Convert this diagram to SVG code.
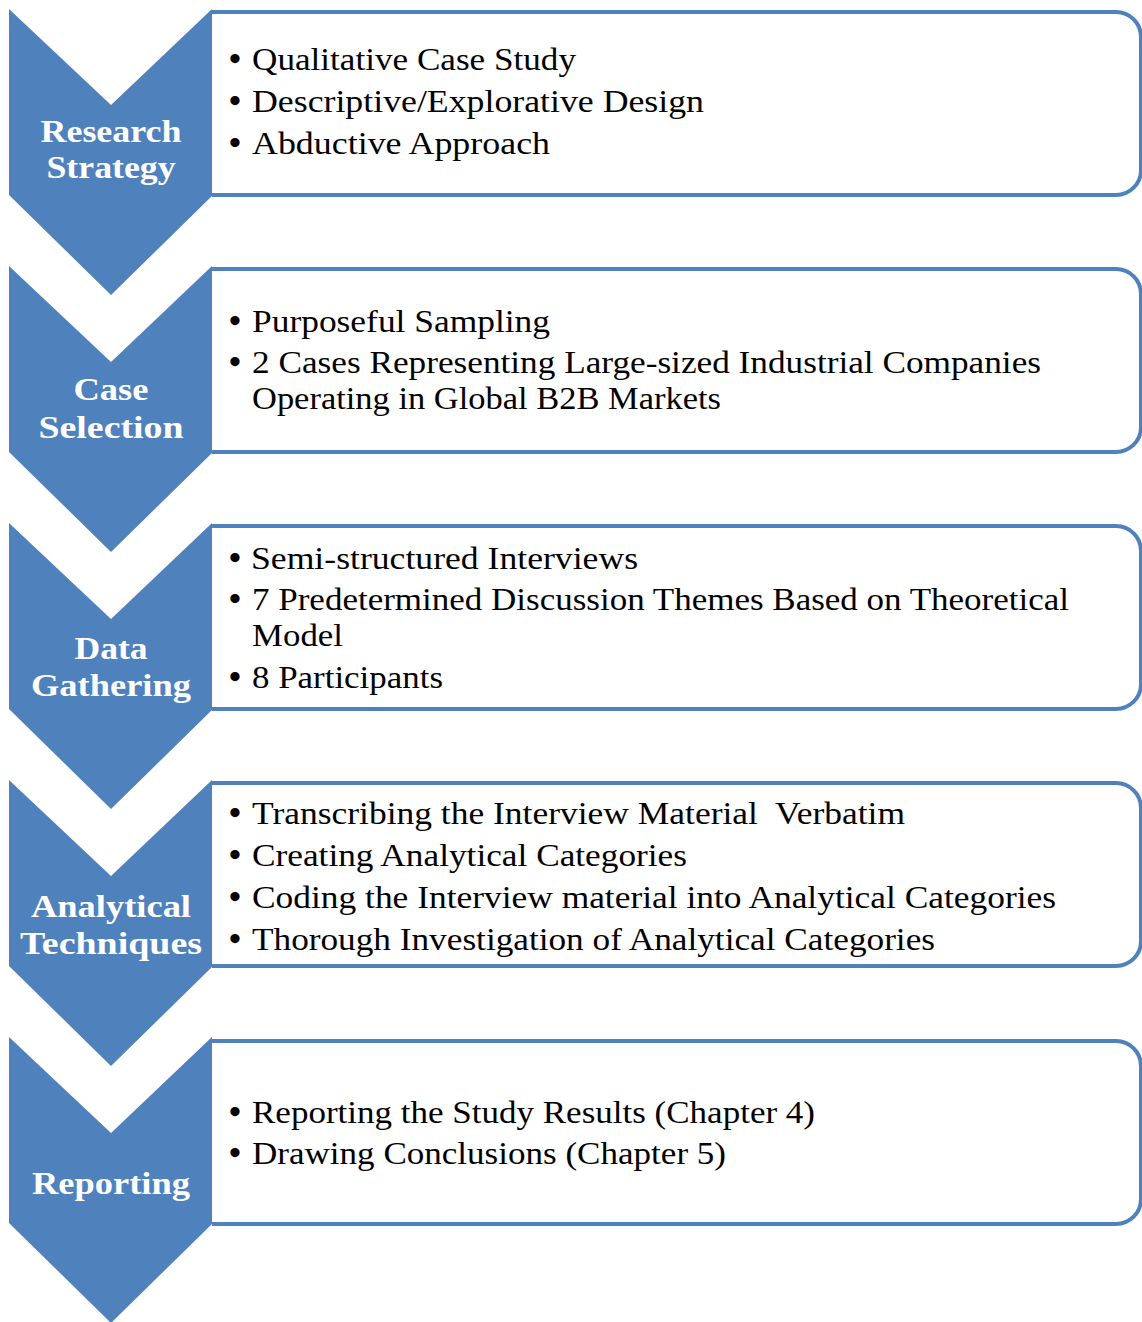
<svg xmlns="http://www.w3.org/2000/svg" width="1142" height="1322" viewBox="0 0 1142 1322">
<style>
.box{fill:#fff;stroke:#4F81BD;stroke-width:4}
.chev{fill:#4F81BD}
.lbl{font-family:"Liberation Serif","DejaVu Serif",serif;font-size:32px;font-weight:bold;fill:#fff;text-anchor:middle}
.itm{font-family:"Liberation Serif","DejaVu Serif",serif;font-size:32px;fill:#000}
.bul{font-family:"Liberation Serif","DejaVu Serif",serif;font-size:34px;font-weight:bold;fill:#000}
</style>
<rect width="1142" height="1322" fill="#fff"/>
<g id="step1">
<path class="box" d="M212,12 H1116 A25,25 0 0 1 1141,37 V170 A25,25 0 0 1 1116,195 H212"/>
<polygon class="chev" points="9,9 111,105 212,9 212,196 111,295 9,195"/>
<text class="lbl" x="111" y="142" textLength="141" lengthAdjust="spacingAndGlyphs">Research</text>
<text class="lbl" x="111" y="178" textLength="129" lengthAdjust="spacingAndGlyphs">Strategy</text>
<text class="bul" x="229" y="70">•</text><text class="itm" x="252" y="70" textLength="324" lengthAdjust="spacingAndGlyphs">Qualitative Case Study</text>
<text class="bul" x="229" y="112">•</text><text class="itm" x="252" y="112" textLength="452" lengthAdjust="spacingAndGlyphs">Descriptive/Explorative Design</text>
<text class="bul" x="229" y="154">•</text><text class="itm" x="252" y="154" textLength="298" lengthAdjust="spacingAndGlyphs">Abductive Approach</text>
</g>
<g id="step2">
<path class="box" d="M212,269 H1116 A25,25 0 0 1 1141,294 V427 A25,25 0 0 1 1116,452 H212"/>
<polygon class="chev" points="9,266 111,362 212,266 212,453 111,552 9,452"/>
<text class="lbl" x="111" y="400" textLength="75" lengthAdjust="spacingAndGlyphs">Case</text>
<text class="lbl" x="111" y="438" textLength="145" lengthAdjust="spacingAndGlyphs">Selection</text>
<text class="bul" x="229" y="332">•</text><text class="itm" x="252" y="332" textLength="298" lengthAdjust="spacingAndGlyphs">Purposeful Sampling</text>
<text class="bul" x="229" y="373">•</text><text class="itm" x="252" y="373" textLength="789" lengthAdjust="spacingAndGlyphs">2 Cases Representing Large-sized Industrial Companies</text>
<text class="itm" x="252" y="409" textLength="469" lengthAdjust="spacingAndGlyphs">Operating in Global B2B Markets</text>
</g>
<g id="step3">
<path class="box" d="M212,526 H1116 A25,25 0 0 1 1141,551 V684 A25,25 0 0 1 1116,709 H212"/>
<polygon class="chev" points="9,523 111,619 212,523 212,710 111,809 9,709"/>
<text class="lbl" x="111" y="659" textLength="73" lengthAdjust="spacingAndGlyphs">Data</text>
<text class="lbl" x="111" y="696" textLength="160" lengthAdjust="spacingAndGlyphs">Gathering</text>
<text class="bul" x="229" y="569">•</text><text class="itm" x="251" y="569" textLength="387" lengthAdjust="spacingAndGlyphs">Semi-structured Interviews</text>
<text class="bul" x="229" y="610">•</text><text class="itm" x="252" y="610" textLength="817" lengthAdjust="spacingAndGlyphs">7 Predetermined Discussion Themes Based on Theoretical</text>
<text class="itm" x="252" y="646" textLength="91" lengthAdjust="spacingAndGlyphs">Model</text>
<text class="bul" x="229" y="688">•</text><text class="itm" x="252" y="688" textLength="191" lengthAdjust="spacingAndGlyphs">8 Participants</text>
</g>
<g id="step4">
<path class="box" d="M212,783 H1116 A25,25 0 0 1 1141,808 V941 A25,25 0 0 1 1116,966 H212"/>
<polygon class="chev" points="9,780 111,876 212,780 212,967 111,1066 9,966"/>
<text class="lbl" x="111" y="917" textLength="160" lengthAdjust="spacingAndGlyphs">Analytical</text>
<text class="lbl" x="111" y="954" textLength="182" lengthAdjust="spacingAndGlyphs">Techniques</text>
<text class="bul" x="229" y="824">•</text><text class="itm" x="252" y="824" textLength="653" lengthAdjust="spacingAndGlyphs" xml:space="preserve">Transcribing the Interview Material  Verbatim</text>
<text class="bul" x="229" y="866">•</text><text class="itm" x="252" y="866" textLength="435" lengthAdjust="spacingAndGlyphs">Creating Analytical Categories</text>
<text class="bul" x="229" y="908">•</text><text class="itm" x="252" y="908" textLength="804" lengthAdjust="spacingAndGlyphs">Coding the Interview material into Analytical Categories</text>
<text class="bul" x="229" y="950">•</text><text class="itm" x="252" y="950" textLength="683" lengthAdjust="spacingAndGlyphs">Thorough Investigation of Analytical Categories</text>
</g>
<g id="step5">
<path class="box" d="M212,1041 H1116 A25,25 0 0 1 1141,1066 V1199 A25,25 0 0 1 1116,1224 H212"/>
<polygon class="chev" points="9,1037 111,1133 212,1037 212,1224 111,1323 9,1223"/>
<text class="lbl" x="111" y="1194" textLength="158" lengthAdjust="spacingAndGlyphs">Reporting</text>
<text class="bul" x="229" y="1123">•</text><text class="itm" x="252" y="1123" textLength="563" lengthAdjust="spacingAndGlyphs">Reporting the Study Results (Chapter 4)</text>
<text class="bul" x="229" y="1164">•</text><text class="itm" x="252" y="1164" textLength="474" lengthAdjust="spacingAndGlyphs">Drawing Conclusions (Chapter 5)</text>
</g>
<g id="connectors"></g>
</svg>
